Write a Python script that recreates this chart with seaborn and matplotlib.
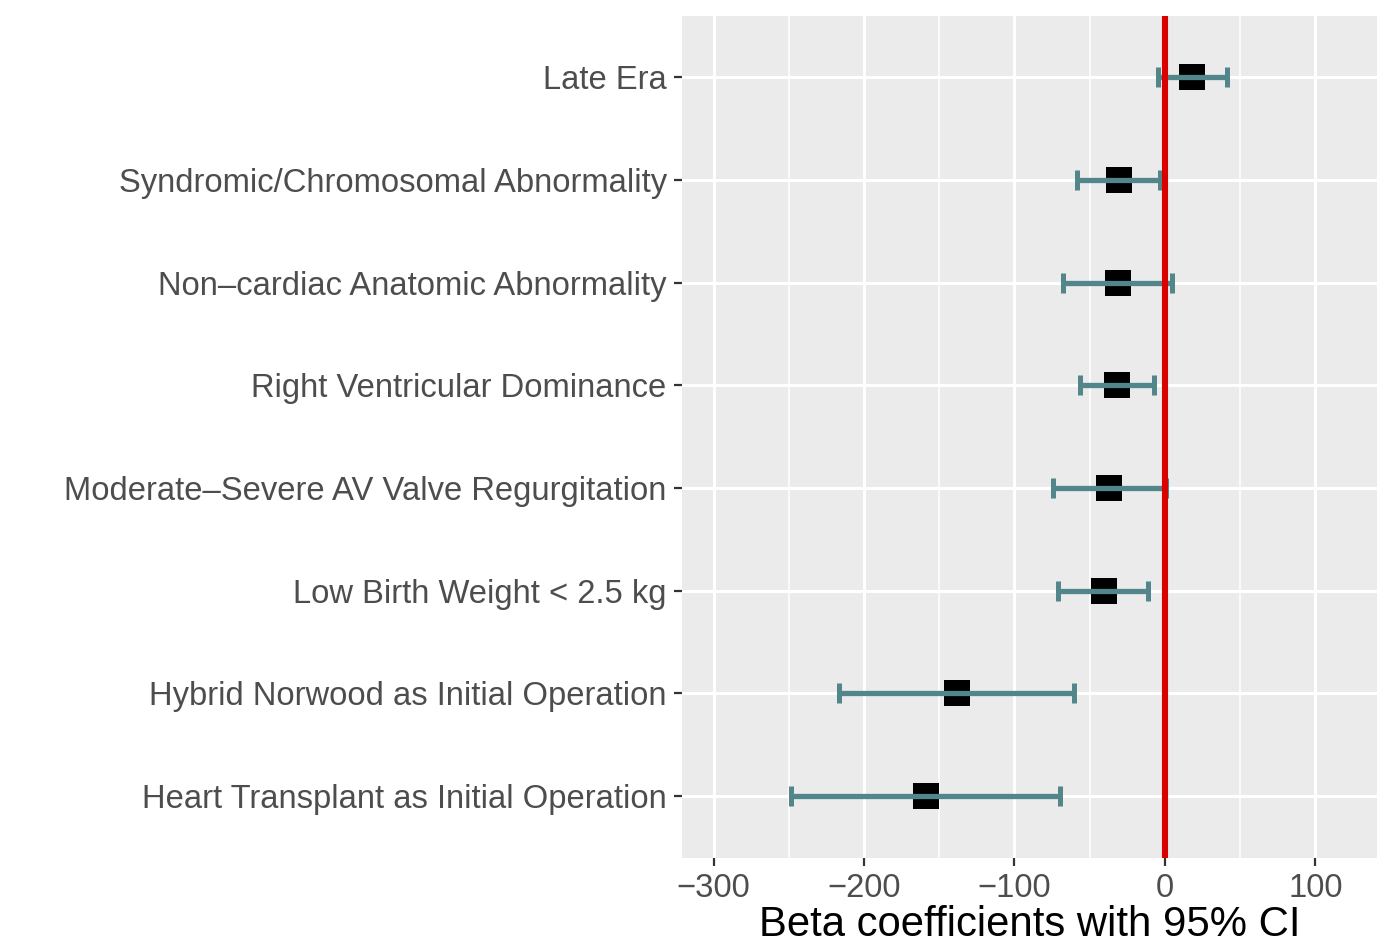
import numpy as np
import pandas as pd
import seaborn as sns
import matplotlib.pyplot as plt
from matplotlib.ticker import MultipleLocator

# model terms, top to bottom
terms = [
    "Late Era",
    "Syndromic/Chromosomal Abnormality",
    "Non–cardiac Anatomic Abnormality",
    "Right Ventricular Dominance",
    "Moderate–Severe AV Valve Regurgitation",
    "Low Birth Weight < 2.5 kg",
    "Hybrid Norwood as Initial Operation",
    "Heart Transplant as Initial Operation",
]
beta = [18.3, -30.3, -31.3, -31.8, -36.9, -40.8, -138.5, -159.0]
ci_low = [-4.8, -58.3, -67.5, -56.3, -74.4, -71.0, -216.5, -248.5]
ci_high = [41.0, -3.3, 4.6, -7.3, 0.4, -11.1, -60.7, -70.0]

df = pd.DataFrame({"term": terms, "beta": beta, "low": ci_low, "high": ci_high})

sns.set_theme(style="darkgrid", rc={
    "axes.facecolor": "#EBEBEB",
    "grid.color": "white",
})
plt.rcParams["font.family"] = ["Liberation Sans", "DejaVu Sans"]

fig = plt.figure(figsize=(13.99, 9.46), dpi=100)
ax = fig.add_axes([0.4875, 0.0933, 0.4968, 0.8901])

# squares for the estimates
sns.pointplot(data=df, x="beta", y="term", order=terms, linestyle="none",
              marker="s", markersize=18.6, markeredgewidth=0, color="black",
              errorbar=None, ax=ax, zorder=2)

# confidence intervals
ypos = np.arange(len(terms))
err = [df["beta"] - df["low"], df["high"] - df["beta"]]
ax.errorbar(df["beta"], ypos, xerr=err, fmt="none", ecolor="#53868B",
            elinewidth=3.8, capsize=7.2, capthick=3.6, zorder=3)

ax.axvline(0, color="#D90000", linewidth=4.4, zorder=4)

ax.set_xlim(-321, 141)
ax.set_ylim(len(terms) - 0.4, -0.6)
ax.xaxis.set_major_locator(MultipleLocator(100))
ax.xaxis.set_minor_locator(MultipleLocator(50))
ax.grid(which="major", linewidth=2.2, color="white")
ax.grid(which="minor", axis="x", linewidth=1.1, color="white")
ax.set_axisbelow(True)
for s in ax.spines.values():
    s.set_visible(False)

ax.tick_params(axis="both", which="major", length=6, width=1.6, color="#333333",
               labelsize=23.6, labelcolor="#4D4D4D", pad=5, bottom=True, left=True)
ax.tick_params(axis="x", which="minor", length=0)

ax.set_ylabel("")
ax.set_xlabel("Beta coefficients with 95% CI", fontsize=30.2, color="black", labelpad=1)

fig.savefig("out.png", dpi=100)
